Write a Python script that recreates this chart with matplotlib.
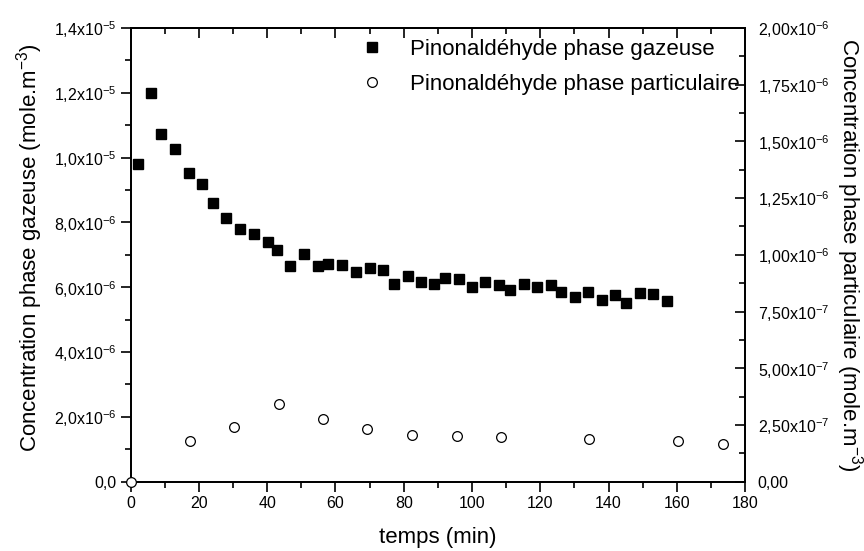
import matplotlib
matplotlib.use("Agg")
import matplotlib.pyplot as plt
from matplotlib.ticker import MultipleLocator, FuncFormatter

plt.rcParams.update({
    "font.family": ["Liberation Sans", "DejaVu Sans"],
    "mathtext.fontset": "custom",
    "mathtext.rm": "Liberation Sans",
    "mathtext.it": "Liberation Sans:italic",
    "mathtext.bf": "Liberation Sans:bold",
    "mathtext.default": "regular",
})

# phase gazeuse (axe gauche)
t_gaz = [2.0, 5.9, 8.9, 13.1, 17.0, 20.9, 24.0, 28.0, 32.0, 36.0, 40.1, 42.9,
         46.8, 50.9, 55.0, 57.9, 62.0, 66.0, 70.2, 74.0, 77.1, 81.1, 85.0, 89.0,
         92.1, 96.1, 100.1, 103.9, 108.0, 111.1, 115.1, 119.1, 123.1, 126.2,
         130.1, 134.1, 138.2, 142.0, 145.1, 149.1, 153.1, 157.2]
c_gaz = [9.80e-6, 12.0e-6, 10.74e-6, 10.28e-6, 9.51e-6, 9.20e-6, 8.60e-6,
         8.13e-6, 7.79e-6, 7.65e-6, 7.41e-6, 7.15e-6, 6.66e-6, 7.02e-6,
         6.66e-6, 6.71e-6, 6.70e-6, 6.47e-6, 6.59e-6, 6.54e-6, 6.11e-6,
         6.36e-6, 6.16e-6, 6.11e-6, 6.30e-6, 6.25e-6, 6.00e-6, 6.15e-6,
         6.06e-6, 5.93e-6, 6.11e-6, 6.00e-6, 6.06e-6, 5.84e-6, 5.69e-6,
         5.85e-6, 5.62e-6, 5.77e-6, 5.51e-6, 5.83e-6, 5.78e-6, 5.59e-6]

# phase particulaire (axe droit)
t_part = [0.0, 17.3, 30.3, 43.5, 56.4, 69.3, 82.4, 95.5, 108.5, 134.4, 160.4, 173.5]
c_part = [0.0, 1.78e-7, 2.43e-7, 3.43e-7, 2.77e-7, 2.33e-7, 2.08e-7, 2.00e-7,
          1.97e-7, 1.89e-7, 1.79e-7, 1.66e-7]


def sci_fmt(ndec):
    def f(v, pos):
        if abs(v) < 1e-20:
            return "0," + "0" * ndec
        exp = 0
        m = abs(v)
        while m >= 10:
            m /= 10
            exp += 1
        while m < 1:
            m *= 10
            exp -= 1
        mant = ("%.*f" % (ndec, m)).replace(".", ",")
        return mant + "x10$^{%d}$" % exp
    return f


fig = plt.figure(figsize=(8.64, 5.51), dpi=100)
ax = fig.add_axes([0.1513, 0.1258, 0.711, 0.8234])
ax2 = ax.twinx()

fs = 16
tfs = 11.5
l1, = ax.plot(t_gaz, c_gaz, ls="none", marker="s", ms=6.5, color="black",
              label="Pinonaldéhyde phase gazeuse")
l2, = ax2.plot(t_part, c_part, ls="none", marker="o", ms=7, mfc="white",
               mec="black", mew=0.9, label="Pinonaldéhyde phase particulaire",
               clip_on=False, zorder=5)

ax.set_xlim(0, 180)
ax.set_ylim(0, 1.4e-5)
ax2.set_ylim(0, 2.0e-6)

ax.xaxis.set_major_locator(MultipleLocator(20))
ax.xaxis.set_minor_locator(MultipleLocator(10))
ax.yaxis.set_major_locator(MultipleLocator(2e-6))
ax.yaxis.set_minor_locator(MultipleLocator(1e-6))
ax2.yaxis.set_major_locator(MultipleLocator(2.5e-7))
ax2.yaxis.set_minor_locator(MultipleLocator(1.25e-7))
ax.yaxis.set_major_formatter(FuncFormatter(sci_fmt(1)))
ax2.yaxis.set_major_formatter(FuncFormatter(sci_fmt(2)))

ax.tick_params(axis="both", which="major", direction="out", length=7,
               width=1.2, labelsize=tfs, pad=3)
ax.tick_params(axis="both", which="minor", direction="out", length=4, width=1.2)
ax2.tick_params(axis="y", which="major", direction="in", length=7, width=1.2,
                labelsize=tfs, pad=9)
ax2.tick_params(axis="y", which="minor", direction="in", length=4, width=1.2)

top = ax.secondary_xaxis("top")
top.xaxis.set_major_locator(MultipleLocator(20))
top.xaxis.set_minor_locator(MultipleLocator(10))
top.tick_params(axis="x", which="major", direction="in", length=7, width=1.2,
                labeltop=False)
top.tick_params(axis="x", which="minor", direction="in", length=4, width=1.2)

for a in (ax, ax2):
    for s in a.spines.values():
        s.set_linewidth(1.3)
top.spines["top"].set_linewidth(1.3)

ax.set_xlabel("temps (min)", fontsize=fs, labelpad=12)
ax.set_ylabel("Concentration phase gazeuse (mole.m$^{-3}$)", fontsize=fs,
              labelpad=8)
ax.yaxis.set_label_coords(-0.14, 0.515)
ax2.set_ylabel("Concentration phase particulaire (mole.m$^{-3}$)", fontsize=fs,
               rotation=270, va="bottom", labelpad=4)

ax.legend(handles=[l1, l2], loc="upper left", bbox_to_anchor=(0.375, 0.976),
          frameon=False, fontsize=fs, numpoints=1, handlelength=1.0,
          handletextpad=1.2, borderpad=0, borderaxespad=0, labelspacing=0.62)

fig.savefig("out.png", dpi=100)
